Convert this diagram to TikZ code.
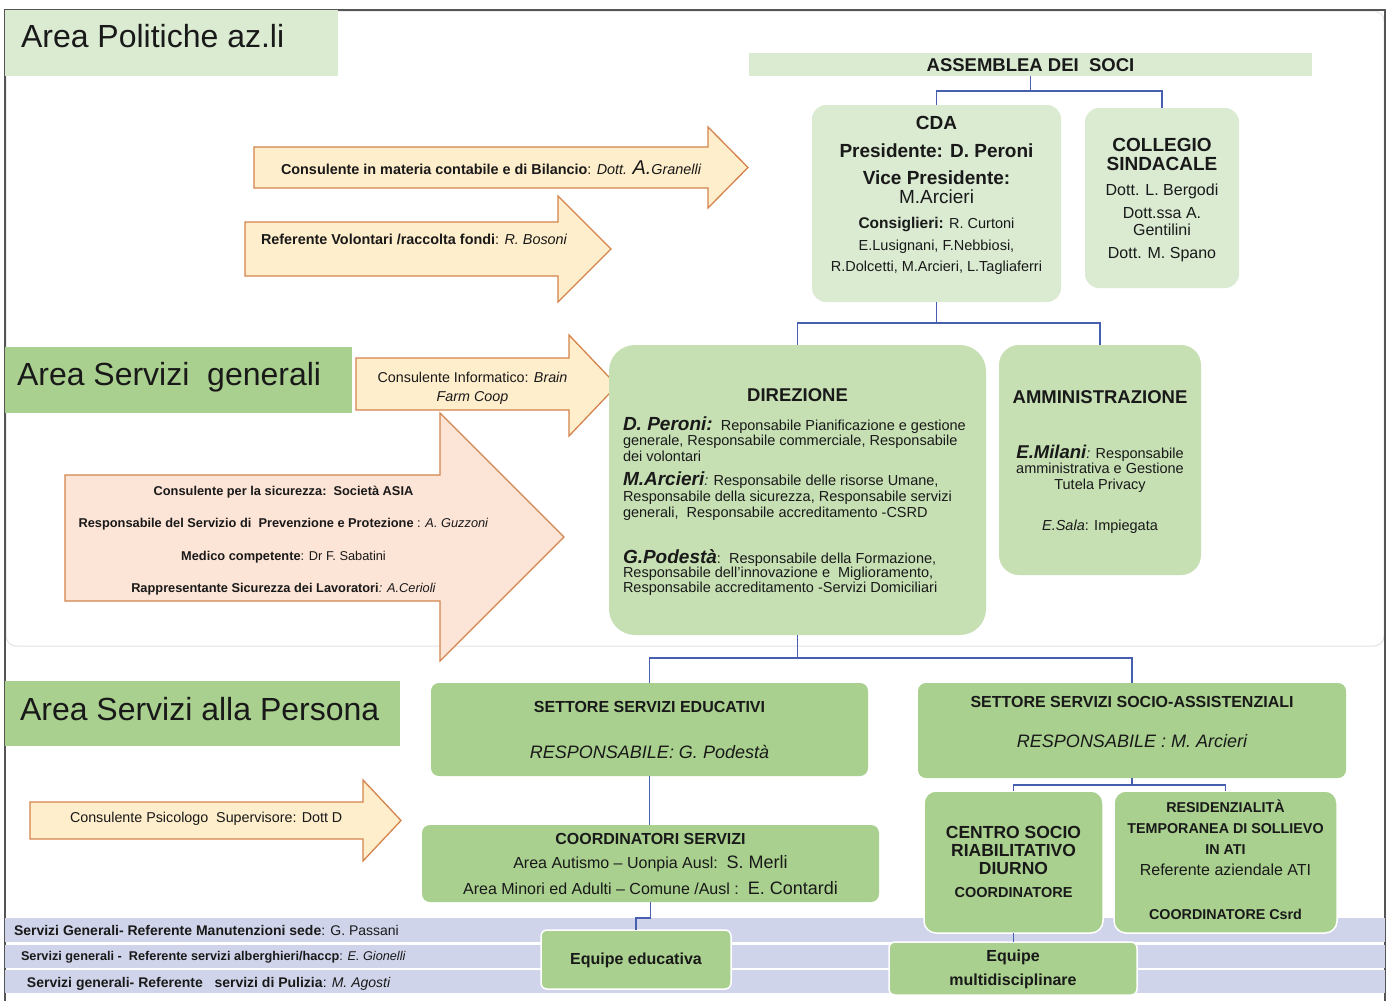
\documentclass[tikz,border=0pt]{standalone}
\usepackage{fontspec}
\setmainfont{Liberation Sans}
\definecolor{lgreen}{RGB}{218,235,210}
\definecolor{mgreen}{RGB}{198,224,180}
\definecolor{dgreen}{RGB}{169,208,142}
\definecolor{cream}{RGB}{255,238,204}
\definecolor{salmon}{RGB}{252,228,214}
\definecolor{orangeb}{RGB}{212,132,76}
\definecolor{lav}{RGB}{208,212,234}
\definecolor{connc}{RGB}{70,95,175}
\definecolor{txt}{RGB}{25,25,25}
\definecolor{framec}{RGB}{85,85,85}
\newcommand\fsz[1]{\fontsize{#1}{#1}\selectfont}
\newcommand\rbox[6]{%
  \pgfmathsetmacro\boxw{#4-#2}\pgfmathsetmacro\boxh{#5-#3}%
  \node[bx,#6,minimum width=\boxw pt,minimum height=\boxh pt] (#1) at ({(#2+#4)/2},{(#3+#5)/2}) {};}
\tikzset{
  bx/.style={rectangle,inner sep=0pt,outer sep=0pt},
  tx/.style={inner sep=0pt,outer sep=0pt,anchor=base,text=txt},
  txl/.style={inner sep=0pt,outer sep=0pt,anchor=base west,text=txt},
  conn/.style={draw=connc,line width=1.4pt},
  carrow/.style={fill=cream,draw=orangeb,line width=1.3pt,line join=miter},
  sarrow/.style={fill=salmon,draw=orangeb,line width=1.3pt,line join=miter},
}
\begin{document}
\begin{tikzpicture}[x=1pt,y=-1pt]
\useasboundingbox (0,0) rectangle (1390,1001);
\fill[white] (0,0) rectangle (1390,1001);
% frame and upper panel
\draw[gray!22,line width=1pt,rounded corners=10pt] (6,11) rectangle (1384,646);
\draw[framec,line width=1.5pt] (5,1001) -- (5,10) -- (1385,10) -- (1385,1001);
% header boxes
\rbox{pol}{5}{10}{338}{76}{fill=lgreen}
\rbox{sg}{5}{347}{352}{413}{fill=dgreen}
\rbox{sp}{5}{681}{400}{746}{fill=dgreen}
\node[txl,font={\fsz{32}}] (polT) at (21,47.5) {Area Politiche az.li};
\node[txl,font={\fsz{32}}] (sgT) at (17,385) {Area Servizi\ \ generali};
\node[txl,font={\fsz{32}}] (spT) at (20,720) {Area Servizi alla Persona};
% block arrows
\draw[carrow] (254,147) -- (708,147) -- (708,127) -- (748,167.5) -- (708,208) -- (708,188) -- (254,188) -- cycle;
\draw[carrow] (245,222) -- (558,222) -- (558,196) -- (611,249) -- (558,302) -- (558,276) -- (245,276) -- cycle;
\draw[carrow] (356,358) -- (569,358) -- (569,335) -- (617,385.5) -- (569,436) -- (569,410) -- (356,410) -- cycle;
\draw[sarrow] (65,475) -- (440,475) -- (440,413) -- (564,537) -- (440,661) -- (440,601) -- (65,601) -- cycle;
\draw[carrow] (30,802) -- (363,802) -- (363,780) -- (401,820.5) -- (363,861) -- (363,839) -- (30,839) -- cycle;
\node[txl,font={\fsz{14.4}}] (a1T) at (281,174) {\textbf{Consulente in materia contabile e di Bilancio}: \textit{Dott. {\fsz{20}A.}Granelli}};
\node[txl,font={\fsz{14.4}}] (a2T) at (261,244) {\textbf{Referente Volontari /raccolta fondi}: \textit{R. Bosoni}};
\node[tx,font={\fsz{14.3}}] (a3T1) at (472.5,382) {Consulente Informatico: \textit{Brain}};
\node[tx,font={\fsz{14.3}}] (a3T2) at (472.5,401) {\textit{Farm Coop}};
\node[tx,font={\fsz{12.8}}] (a4T1) at (283.5,495.5) {\textbf{Consulente per la sicurezza:\ \ Società ASIA}};
\node[tx,font={\fsz{12.8}}] (a4T2) at (283.5,527.5) {\textbf{Responsabile del Servizio di\ \ Prevenzione e Protezione} : \textit{A. Guzzoni}};
\node[tx,font={\fsz{12.8}}] (a4T3) at (283.5,560.5) {\textbf{Medico competente}: Dr F. Sabatini};
\node[tx,font={\fsz{12.8}}] (a4T4) at (283.5,592.5) {\textbf{Rappresentante Sicurezza dei Lavoratori}\textit{: A.Cerioli}};
\node[txl,font={\fsz{14.3}}] (a5T) at (70,822) {Consulente Psicologo\ \ Supervisore: Dott D};
% organisation boxes (upper)
\rbox{asm}{749}{53}{1312}{76}{fill=lgreen}
\rbox{cda}{812}{105}{1061}{302}{fill=lgreen,rounded corners=14pt}
\rbox{col}{1085}{108}{1239}{288}{fill=lgreen,rounded corners=14pt}
\rbox{dir}{609}{345}{986}{635}{fill=mgreen,rounded corners=26pt}
\rbox{amm}{999}{345}{1201}{575}{fill=mgreen,rounded corners=20pt}
\rbox{edu}{431}{683}{868}{776}{fill=dgreen,rounded corners=8pt}
\rbox{soc}{918}{683}{1346}{778}{fill=dgreen,rounded corners=8pt}
\rbox{coo}{422}{825}{879}{902}{fill=dgreen,rounded corners=8pt}
% bands
\rbox{b1}{5}{918}{1385}{942}{fill=lav}
\rbox{b2}{5}{944.5}{1385}{967.5}{fill=lav}
\rbox{b3}{5}{970}{1385}{993}{fill=lav}
\rbox{csr}{924}{791}{1103}{933}{fill=dgreen,draw=white,line width=1.5pt,rounded corners=12pt}
\rbox{res}{1114}{791}{1337}{933}{fill=dgreen,draw=white,line width=1.5pt,rounded corners=12pt}
\rbox{eqe}{541}{930}{731}{989}{fill=dgreen,draw=white,line width=1.5pt,rounded corners=6pt}
\rbox{eqm}{889}{942}{1137}{995}{fill=dgreen,draw=white,line width=1.5pt,rounded corners=6pt}
% connectors
\draw[conn] (asm.south) -- ++(0,15) coordinate (j1);
\draw[conn] (cda.north) |- (j1) -| (col.north);
\draw[conn] (cda.south) -- ++(0,21) coordinate (j2);
\draw[conn] (dir.north) |- (j2) -| (amm.north);
\draw[conn] (dir.south) -- ++(0,23) coordinate (j3);
\draw[conn] (edu.north) |- (j3) -| (soc.north);
\draw[conn] (edu.south) -- (edu.south |- coo.north);
\draw[conn] (coo.south) -- ++(0,16) -| (eqe.north);
\draw[conn] (soc.south) -- ++(0,7) coordinate (j4);
\draw[conn] (csr.north) |- (j4) -| (res.north);
\draw[conn] (csr.south) -- (csr.south |- eqm.north);
% texts: assemblea, CDA, collegio
\node[tx,font={\fsz{18.5}\bfseries}] (asmT) at (1030.5,71) {ASSEMBLEA DEI\ \ SOCI};
\node[tx,font={\fsz{19}\bfseries}] (cdaT1) at (936.5,129) {CDA};
\node[tx,font={\fsz{19}\bfseries}] (cdaT2) at (936.5,157) {Presidente: D. Peroni};
\node[tx,font={\fsz{19}\bfseries}] (cdaT3) at (936.5,184) {Vice Presidente:};
\node[tx,font={\fsz{19}}] (cdaT4) at (936.5,203) {M.Arcieri};
\node[tx,font={\fsz{14.5}}] (cdaT5) at (936.5,228) {{\fsz{15.5}\bfseries Consiglieri:} R. Curtoni};
\node[tx,font={\fsz{14.5}}] (cdaT6) at (936.5,250) {E.Lusignani, F.Nebbiosi,};
\node[tx,font={\fsz{14.5}}] (cdaT7) at (936.5,271) {R.Dolcetti, M.Arcieri, L.Tagliaferri};
\node[tx,font={\fsz{19}\bfseries}] (colT1) at (1162,151) {COLLEGIO};
\node[tx,font={\fsz{19}\bfseries}] (colT2) at (1162,170) {SINDACALE};
\node[tx,font={\fsz{16}}] (colT3) at (1162,195.5) {Dott. L. Bergodi};
\node[tx,font={\fsz{16}}] (colT4) at (1162,218.5) {Dott.ssa A.};
\node[tx,font={\fsz{16}}] (colT5) at (1162,235.5) {Gentilini};
\node[tx,font={\fsz{16}}] (colT6) at (1162,258.5) {Dott. M. Spano};
% direzione
\node[tx,font={\fsz{18.5}\bfseries}] (dirT0) at (797.5,401.5) {DIREZIONE};
\node[txl,font={\fsz{14.5}}] (dirT1) at (623,430) {{\fsz{19}\bfseries\itshape D. Peroni:}\ \ Reponsabile Pianificazione e gestione};
\node[txl,font={\fsz{14.5}}] (dirT2) at (623,445) {generale, Responsabile commerciale, Responsabile};
\node[txl,font={\fsz{14.5}}] (dirT3) at (623,461) {dei volontari};
\node[txl,font={\fsz{14.5}}] (dirT4) at (623,485) {{\fsz{19}\bfseries\itshape M.Arcieri}\textit{:} Responsabile delle risorse Umane,};
\node[txl,font={\fsz{14.5}}] (dirT5) at (623,501) {Responsabile della sicurezza, Responsabile servizi};
\node[txl,font={\fsz{14.5}}] (dirT6) at (623,517) {generali,\ \ Responsabile accreditamento -CSRD};
\node[txl,font={\fsz{14.5}}] (dirT7) at (623,563) {{\fsz{19}\bfseries\itshape G.Podestà}:\ \ Responsabile della Formazione,};
\node[txl,font={\fsz{14.5}}] (dirT8) at (623,577) {Responsabile dell'innovazione e\ \ Miglioramento,};
\node[txl,font={\fsz{14.5}}] (dirT9) at (623,592) {Responsabile accreditamento -Servizi Domiciliari};
% amministrazione
\node[tx,font={\fsz{18.5}\bfseries}] (ammT0) at (1100,403.5) {AMMINISTRAZIONE};
\node[tx,font={\fsz{14.5}}] (ammT1) at (1100,458.5) {{\fsz{18.5}\bfseries\itshape E.Milani}\textit{:} Responsabile};
\node[tx,font={\fsz{14.5}}] (ammT2) at (1100,473) {amministrativa e Gestione};
\node[tx,font={\fsz{14.5}}] (ammT3) at (1100,489) {Tutela Privacy};
\node[tx,font={\fsz{14.5}}] (ammT4) at (1100,530) {\textit{E.Sala}: Impiegata};
% settori
\node[tx,font={\fsz{16}\bfseries}] (eduT1) at (649.5,712.5) {SETTORE SERVIZI EDUCATIVI};
\node[tx,font={\fsz{18}\itshape}] (eduT2) at (649.5,758.5) {RESPONSABILE: G. Podestà};
\node[tx,font={\fsz{16}\bfseries}] (socT1) at (1132,707.5) {SETTORE SERVIZI SOCIO-ASSISTENZIALI};
\node[tx,font={\fsz{18}\itshape}] (socT2) at (1132,747.5) {RESPONSABILE : M. Arcieri};
\node[tx,font={\fsz{16}\bfseries}] (cooT1) at (650.5,844.5) {COORDINATORI SERVIZI};
\node[tx,font={\fsz{16}}] (cooT2) at (650.5,868.5) {Area Autismo -- Uonpia Ausl:\ \ {\fsz{18}S. Merli}};
\node[tx,font={\fsz{16}}] (cooT3) at (650.5,894.5) {Area Minori ed Adulti -- Comune /Ausl :\ \ {\fsz{18}E. Contardi}};
\node[tx,font={\fsz{17.5}\bfseries}] (csrT1) at (1013.5,838) {CENTRO SOCIO};
\node[tx,font={\fsz{17.5}\bfseries}] (csrT2) at (1013.5,856) {RIABILITATIVO};
\node[tx,font={\fsz{17.5}\bfseries}] (csrT3) at (1013.5,874) {DIURNO};
\node[tx,font={\fsz{14.5}\bfseries}] (csrT4) at (1013.5,897) {COORDINATORE};
\node[tx,font={\fsz{14.3}\bfseries}] (resT1) at (1225.5,812) {RESIDENZIALITÀ};
\node[tx,font={\fsz{14.3}\bfseries}] (resT2) at (1225.5,833) {TEMPORANEA DI SOLLIEVO};
\node[tx,font={\fsz{14.3}\bfseries}] (resT3) at (1225.5,854) {IN ATI};
\node[tx,font={\fsz{16}}] (resT4) at (1225.5,875.5) {Referente aziendale ATI};
\node[tx,font={\fsz{14.3}\bfseries}] (resT5) at (1225.5,919) {COORDINATORE Csrd};
\node[tx,font={\fsz{16}\bfseries}] (eqeT) at (636,964.5) {Equipe educativa};
\node[tx,font={\fsz{16}\bfseries}] (eqmT1) at (1013,961.5) {Equipe};
\node[tx,font={\fsz{16}\bfseries}] (eqmT2) at (1013,985.5) {multidisciplinare};
% band texts
\node[txl,font={\fsz{14}}] (b1T) at (14,935) {\textbf{Servizi Generali- Referente Manutenzioni sede}: G. Passani};
\node[txl,font={\fsz{12.7}}] (b2T) at (21,960.5) {\textbf{Servizi generali -\ \ Referente servizi alberghieri/haccp}: \textit{E. Gionelli}};
\node[txl,font={\fsz{14}}] (b3T) at (27,987) {\textbf{Servizi generali- Referente\ \ \ servizi di Pulizia}: \textit{M. Agosti}};
\end{tikzpicture}
\end{document}
